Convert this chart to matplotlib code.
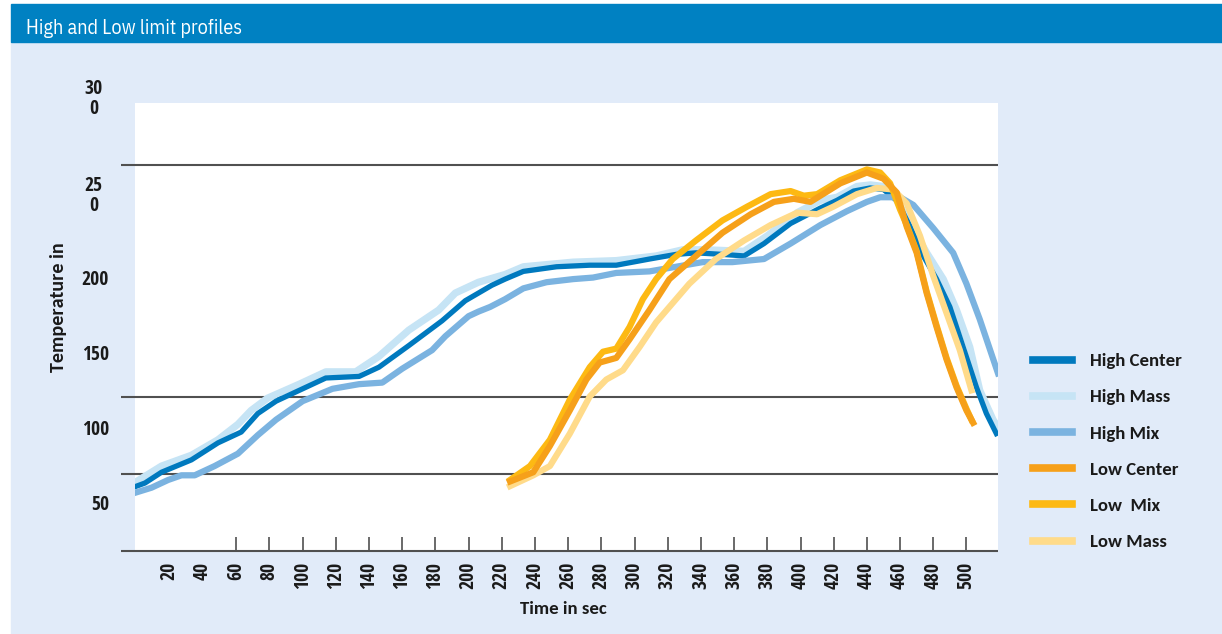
import matplotlib
matplotlib.use("Agg")
import matplotlib.pyplot as plt
from matplotlib.patches import Rectangle

# data (time in s, temperature in degC)
hc_t = [0, 5, 15, 33, 49, 63, 73, 84, 98, 114, 134, 146, 164, 184, 198, 214, 222, 233, 253, 273, 289,
        309, 325, 337, 353, 366, 378, 394, 412, 422, 432, 442, 450, 458, 466, 474, 482, 490, 498, 506, 512, 518]
hc_v = [42, 44, 51, 59, 70, 77, 89, 97, 104, 112, 113, 119, 133, 149, 162, 172, 176, 181, 184, 185, 185,
        189, 192, 193, 192, 191, 199, 212, 222, 227, 233, 235, 234, 227, 210, 191, 176, 158, 132, 106, 89, 76]

hm_t = [0, 15, 33, 49, 61, 69, 79, 98, 114, 132, 146, 164, 182, 192, 206, 222, 233, 263, 289, 313, 329,
        343, 366, 380, 398, 412, 422, 434, 442, 450, 458, 466, 476, 486, 494, 502, 508, 516, 519]
hm_v = [45, 55, 62, 72, 82, 91, 99, 108, 116, 116, 126, 143, 156, 167, 174, 179, 184, 187, 188, 191, 195,
        195, 194, 204, 219, 227, 229, 236, 237, 236, 227, 212, 193, 176, 156, 132, 104, 85, 80]

hx_t = [0, 9, 19, 27, 35, 47, 61, 73, 84, 100, 118, 134, 148, 160, 178, 186, 200, 206, 213, 222, 233, 247,
        263, 275, 289, 309, 325, 341, 359, 378, 394, 412, 428, 440, 448, 460, 468, 480, 492, 500, 508, 519]
hx_v = [38, 41, 46, 49, 49, 55, 63, 75, 85, 97, 105, 108, 109, 118, 130, 139, 152, 155, 158, 163, 170, 174,
        176, 177, 180, 181, 184, 187, 187, 189, 199, 211, 220, 226, 229, 229, 224, 209, 193, 173, 150, 115]

lc_t = [225, 239, 249, 261, 271, 279, 289, 297, 309, 321, 337, 353, 370, 384, 396, 406, 424, 440, 450,
        458, 464, 470, 476, 482, 488, 494, 500, 504]
lc_v = [45, 51, 68, 91, 111, 122, 125, 137, 156, 176, 191, 206, 218, 226, 228, 226, 238, 245, 241,
        232, 210, 193, 167, 145, 124, 106, 91, 83]

lx_t = [225, 237, 249, 261, 273, 281, 289, 297, 305, 313, 323, 337, 353, 368, 382, 394, 402, 410, 424,
        440, 448, 454, 460, 464, 470, 476, 482, 488, 494, 500, 503]
lx_v = [46, 55, 72, 98, 119, 129, 131, 145, 163, 176, 189, 201, 214, 223, 231, 233, 230, 231, 240,
        247, 245, 238, 221, 211, 194, 168, 146, 125, 107, 92, 85]

ls_t = [225, 239, 249, 261, 273, 283, 293, 303, 313, 321, 333, 349, 366, 382, 398, 410, 420, 434, 446,
        456, 464, 472, 480, 488, 496, 503]
ls_v = [42, 49, 55, 76, 100, 111, 117, 132, 148, 158, 173, 189, 201, 211, 219, 218, 223, 231, 235,
        234, 225, 204, 178, 154, 130, 104]

grid_vals = [0, 50, 100, 250]
ytick_labels = ["50", "100", "150", "200", "25\n0", "30\n0"]
xticks = list(range(20, 501, 20))

cond = ["Open Sans Condensed", "IBM Plex Sans Condensed", "DejaVu Sans"]
title_font = ["IBM Plex Sans Condensed", "DejaVu Sans"]
wide = ["Carlito", "Lato", "DejaVu Sans"]

fig = plt.figure(figsize=(12.22, 6.34), dpi=100)
fig.patch.set_facecolor("white")
# header bar and light panel
fig.patches.append(Rectangle((11/1222, 0), 1, 1-42/634, transform=fig.transFigure,
                             color="#E1EBF9", zorder=-2))
fig.patches.append(Rectangle((11/1222, 1-42/634), 1, 38/634, transform=fig.transFigure,
                             color="#0081C2", zorder=-2))
fig.text(26/1222, 1-29/634, "High and Low limit profiles", color="white", fontsize=14.5,
         family=title_font, va="center", ha="left")

ax = fig.add_axes([135/1222, 1-551/634, 863/1222, 448/634])
ax.set_facecolor("white")
ax.set_xlim(-1, 519)
ax.set_ylim(0, 290)
for s in ax.spines.values():
    s.set_visible(False)

ax.hlines(grid_vals, -0.0162, 1, transform=ax.get_yaxis_transform(), colors="#505050",
          linewidth=1.5, clip_on=False, zorder=1)

ax.plot(hm_t, hm_v, color="#C6E4F5", lw=5.2, label="High Mass", zorder=2)
ax.plot(hc_t, hc_v, color="#0079BE", lw=3.8, label="High Center", zorder=3)
ax.plot(hx_t, hx_v, color="#7BB3E0", lw=4.5, label="High Mix", zorder=3)
ax.plot(ls_t, ls_v, color="#FFDB8A", lw=4.5, label="Low Mass", zorder=4)
ax.plot(lx_t, lx_v, color="#FDB913", lw=4.5, label="Low  Mix", zorder=4)
ax.plot(lc_t, lc_v, color="#F6A01A", lw=4.5, label="Low Center", zorder=5)

ax.set_xticks(xticks)
ax.set_xticklabels([str(x) for x in xticks], rotation=90, fontsize=14, fontweight="bold",
                   family=cond, color="#1a1a1a")
ax.tick_params(axis="x", direction="in", length=10, width=1.2, color="#505050", pad=8)
for t in ax.xaxis.get_major_ticks()[:2]:
    t.tick1line.set_visible(False)
ax.set_yticks([])

# y tick labels sit below their nominal values in the reference
ylab_pos = [30, 78.5, 127, 175.5, 230, 292.7]
for lab, yp in zip(ytick_labels, ylab_pos):
    xr = -0.0371 if "\n" in lab else -0.0301
    ax.text(xr, yp, lab, transform=ax.get_yaxis_transform(), ha="right", va="center",
            multialignment="center", fontsize=14, fontweight="bold", family=cond,
            linespacing=1.0, color="#1a1a1a")

ax.set_xlabel("Time in sec", fontsize=13.5, fontweight="bold", family=wide, color="#1a1a1a")
ax.xaxis.set_label_coords(0.496, -0.129)
ax.xaxis.label.set_va("center")
ax.set_ylabel("Temperature in", fontsize=14.5, fontweight="bold", family=wide, color="#1a1a1a")
ax.yaxis.set_label_coords(-0.0892, 0.5446)
ax.yaxis.label.set_va("center")

h, l = ax.get_legend_handles_labels()
order = ["High Center", "High Mass", "High Mix", "Low Center", "Low  Mix", "Low Mass"]
hh = [h[l.index(o)] for o in order]
leg = fig.legend(hh, order, loc="upper left", bbox_to_anchor=(1033/1222, 1-353/634),
                 frameon=False, borderpad=0, borderaxespad=0, handlelength=2.1,
                 handletextpad=0.95, labelspacing=1.07,
                 prop={"family": wide, "weight": "bold", "size": 13.5})
for ln in leg.get_lines():
    ln.set_linewidth(5.5)
for tx in leg.get_texts():
    tx.set_color("#1a1a1a")

fig.savefig("out.png", dpi=100, facecolor=fig.get_facecolor())
